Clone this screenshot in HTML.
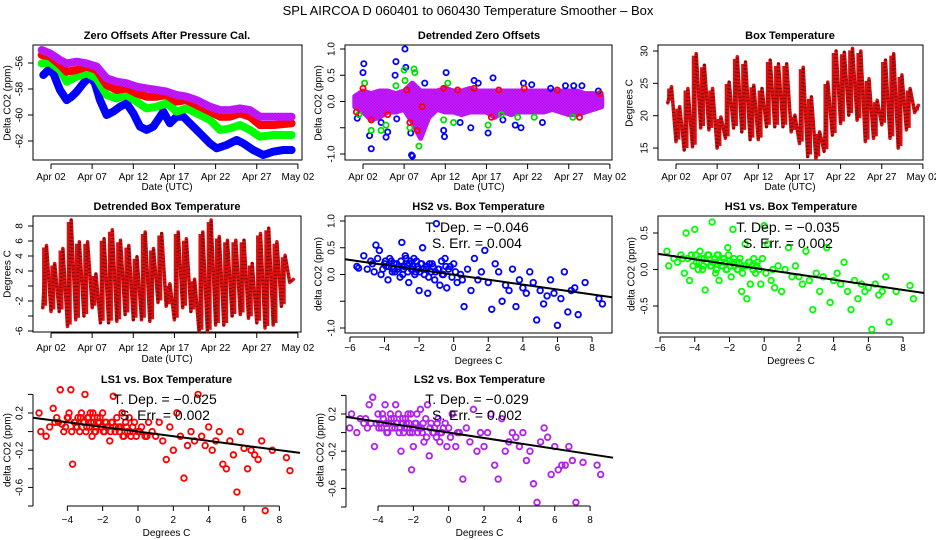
<!DOCTYPE html>
<html><head><meta charset="utf-8"><style>
html,body{margin:0;padding:0;background:#fff;}
svg{display:block;font-family:"Liberation Sans",sans-serif;}
</style></head><body>
<svg id="c" width="936" height="540" viewBox="0 0 936 540" xmlns="http://www.w3.org/2000/svg">
<defs>
<pattern id="chk" width="3" height="3" patternUnits="userSpaceOnUse"><rect width="3" height="3" fill="#ff00ff"/><rect width="1.5" height="1.5" fill="#7a2cf0"/><rect x="1.5" y="1.5" width="1.5" height="1.5" fill="#7a2cf0"/></pattern>
</defs>
<text x="468" y="15" font-size="13" text-anchor="middle">SPL   AIRCOA D   060401 to 060430   Temperature Smoother – Box</text>
</svg>
<script>
// ---------- data ----------
const days = [0,1,2,3,4,5,6,7,8,9,10,11,12,13,14,15,16,17,18,19,20,21,22,23,24,25,26,27,28,29,30];
const zoDay = [0.07,0.68,1.28,2.09,2.90,3.51,4.12,4.93,5.74,6.34,6.95,7.76,8.57,9.38,10.19,11.0,11.81,12.62,13.43,14.24,14.64,15.45,16.26,17.07,17.88,19.1,20.31,21.12,22.34,23.55,24.36,25.57,26.79,28.0,29.22,30.23];
const zoBlue = [-56.92,-56.54,-56.79,-58.08,-58.85,-58.59,-58.21,-57.56,-57.05,-57.56,-58.85,-60.0,-59.74,-59.36,-59.1,-59.87,-60.9,-61.15,-60.9,-60.13,-59.74,-60.64,-60.13,-60.13,-60.64,-61.41,-62.18,-62.56,-62.31,-61.92,-62.18,-62.69,-63.08,-62.82,-62.69,-62.69];
const zoDay2 = [-0.13,0.88,2.09,2.9,4.12,5.33,6.55,7.76,8.98,10.19,11.4,12.62,13.83,15.05,16.26,17.48,18.69,20.31,21.53,22.74,23.96,25.17,26.38,28.0,30.23];
const zoGreen = [-56.03,-55.95,-56.54,-57.44,-57.05,-56.79,-57.18,-58.46,-58.72,-58.46,-58.97,-59.49,-59.36,-59.1,-59.74,-59.49,-59.87,-60.38,-61.15,-61.03,-60.77,-61.15,-61.67,-61.54,-61.54];
const zoRed = [-55.38,-55.51,-56.15,-56.67,-56.54,-56.28,-56.54,-57.69,-58.08,-57.95,-58.33,-58.59,-58.59,-58.46,-58.97,-58.85,-59.23,-59.74,-60.13,-60.13,-59.87,-60.13,-60.77,-60.77,-60.64];
const zoPurple = [-55.0,-55.26,-55.77,-56.03,-55.9,-56.03,-56.28,-57.18,-57.44,-57.56,-57.82,-57.95,-58.08,-58.2,-58.46,-58.59,-58.85,-59.36,-59.62,-59.62,-59.49,-59.62,-60.13,-60.13,-60.13];

const dzHi = [0.1,0.2,0.15,0.2,0.2,0.15,0.2,0.35,0.2,0.2,0.2,0.25,0.2,0.2,0.25,0.2,0.2,0.2,0.2,0.2,0.2,0.2,0.2,0.2,0.2,0.2,0.2,0.2,0.15,0.15,0.1];
const dzLo = [-0.1,-0.2,-0.35,-0.3,-0.2,-0.2,-0.15,-0.4,-0.7,-0.3,-0.15,-0.2,-0.2,-0.25,-0.2,-0.2,-0.2,-0.3,-0.2,-0.25,-0.2,-0.2,-0.2,-0.2,-0.15,-0.2,-0.25,-0.25,-0.2,-0.15,-0.1];
const outBlueD = [0.3,1,1.1,1.8,2,3.2,3.8,4,4.9,5,5.1,6.1,6.2,6.8,6.9,7,8.5,10.8,10.9,11.1,12.8,14.1,14.5,15,16.2,16.8,18,19.5,20.2,20.5,21.5,22.8,23.8,25.6,26.6,27.6,29.6];
const outBlueV = [-0.32,0.55,0.72,-0.65,-0.9,-0.4,-0.68,-0.58,0.5,0.76,-0.33,1.0,0.65,-0.6,-1.02,-1.04,0.35,-0.55,-0.67,0.55,-0.4,-0.5,0.4,0.35,-0.6,0.45,-0.35,-0.45,-0.5,0.35,0.32,-0.4,0.25,0.3,0.3,0.3,0.2];
const outGreenD = [0.5,1.2,2,3.2,3.8,5,6,6.1,6.7,7.2,7.3,7.8,10.8,11.3,12,16.2,17.8,19.8,21.8,26.5];
const outGreenV = [-0.25,0.35,-0.55,-0.55,-0.45,0.3,0.6,0.4,-0.5,0.62,0.55,-0.85,-0.35,0.35,-0.4,-0.45,-0.25,-0.3,-0.3,-0.3];
const outRedD = [0.2,1,2,4,6.3,6.7,7.6,8.2,10.8,12.5,14.5,16.6,17.5,20.6,24.6,27.3,29.8];
const outRedV = [-0.2,0.25,-0.35,-0.25,0.22,-0.4,-0.55,-0.1,0.25,0.22,0.25,-0.3,0.22,0.25,0.22,-0.3,0.15];

const tMax = [24.5,21.4,24.2,29.6,27.8,24.2,19.8,25.2,29.1,28.3,24.7,24.2,28.6,28.0,28.0,20.1,27.5,22.9,17.5,25.2,30.0,29.8,30.4,30.0,25.7,22.4,28.6,29.6,26.3,24.2,21.6];
const tMin = [22.0,16.0,14.7,15.2,18.1,17.8,15.0,16.5,18.1,17.5,16.3,16.3,18.3,18.3,18.3,17.5,15.7,13.7,13.4,14.5,17.0,18.8,20.1,19.3,16.0,16.5,18.6,16.5,15.0,17.8,20.5];
const dMax = [5.4,3.0,5.0,8.8,5.9,5.9,1.6,6.3,7.5,6.1,5.4,3.9,7.2,5.0,7.0,0.3,7.2,6.3,0.9,7.2,8.8,6.6,6.1,6.1,6.1,3.0,7.0,7.7,5.9,4.1,0.9];
const dMin = [-2.9,-3.4,-3.4,-5.4,-4.5,-4.0,-2.9,-4.9,-4.9,-4.7,-3.8,-4.5,-4.5,-4.7,-2.2,-2.7,-4.5,-2.9,-3.4,-6.1,-6.1,-5.2,-5.2,-4.0,-3.8,-4.3,-4.9,-5.6,-5.2,-2.7,0.5];

const boxT = [-5.6,-5.5,-5.2,-5.0,-4.8,-4.6,-4.5,-4.4,-4.3,-4.2,-4.0,-3.9,-3.8,-3.7,-3.6,-3.5,-3.4,-3.3,-3.2,-3.1,-3.0,-2.9,-2.8,-2.7,-2.6,-2.5,-2.4,-2.3,-2.2,-2.1,-2.0,-1.9,-1.8,-1.7,-1.6,-1.5,-1.4,-1.3,-1.2,-1.1,-1.0,-0.9,-0.8,-0.7,-0.6,-0.5,-0.4,-0.3,-0.2,-0.1,0.0,0.2,0.4,0.6,0.8,1.0,1.2,1.4,1.6,1.8,2.0,2.2,2.4,2.6,2.8,3.0,3.2,3.4,3.6,3.8,4.0,4.2,4.4,4.6,4.8,5.0,5.2,5.4,5.6,5.8,6.0,6.2,6.4,6.6,6.8,7.0,7.2,7.6,8.4,8.6,
 -4.7,-4.1,-3.95,-3.75,-3.55,-3.45,-3.25,-3.05,-2.95,-2.85,-2.75,-2.65,-2.55,-2.45,-2.35,-2.25,-2.15,-2.05,-1.95,-1.85,-1.75,-1.55,-1.45,-1.25,-1.05,-0.85,-0.65,-0.45,0.1,0.5];
const hs2 = [0.15,0.12,0.35,0.1,0.25,0.05,0.55,0.3,0.45,0.0,0.2,0.15,-0.1,0.3,0.25,0.1,0.05,0.2,0.15,-0.05,0.6,0.1,0.35,0.2,-0.15,0.25,0.1,0.3,0.05,0.15,-0.3,0.2,0.5,0.0,0.1,-0.35,0.2,0.05,0.15,-0.1,0.95,0.1,-0.2,0.25,0.0,0.3,-0.25,0.1,0.15,-0.05,0.2,-0.15,0.0,-0.6,0.1,-0.3,0.3,-0.1,0.05,0.45,-0.15,-0.65,0.2,0.05,-0.5,-0.2,-0.3,0.1,-0.6,-0.1,-0.25,-0.35,0.05,-0.15,-0.85,-0.3,-0.55,-0.4,-0.1,-0.35,-0.95,-0.45,0.05,-0.7,-0.3,-0.25,-0.75,-0.15,-0.45,-0.55,
 0.2,0.1,0.25,0.15,0.05,0.2,0.1,0.25,0.0,0.15,0.3,0.05,0.2,0.1,0.15,0.0,0.25,0.1,0.05,0.2,0.1,0.15,-0.05,0.2,0.05,0.1,0.0,0.15,0.05,-0.1];
const hs1 = [0.25,0.05,0.15,0.1,0.2,-0.05,0.5,0.15,-0.15,0.2,0.55,0.1,0.0,0.25,0.15,0.05,-0.28,0.1,0.2,0.05,0.65,0.1,-0.05,0.2,-0.15,0.1,0.05,0.15,0.0,0.3,0.12,-0.1,0.55,0.05,0.1,0.0,0.15,-0.3,0.05,0.35,-0.4,0.1,-0.2,0.05,0.15,-0.05,0.1,0.0,-0.2,0.15,0.6,0.35,-0.15,-0.25,0.05,-0.3,0.0,0.3,-0.1,0.05,-0.1,-0.2,0.25,-0.15,-0.55,-0.05,-0.3,-0.1,0.3,-0.45,-0.15,-0.05,-0.2,0.1,-0.3,-0.55,-0.15,-0.4,-0.2,-0.3,-0.25,-0.82,-0.2,-0.35,-0.3,-0.1,-0.72,-0.3,-0.22,-0.4,
 0.15,0.05,0.2,0.1,0.0,0.15,0.2,0.05,0.1,0.15,0.0,0.2,0.1,0.05,0.15,0.1,0.0,0.2,0.05,0.1,0.15,0.0,0.1,-0.05,0.05,0.1,0.0,0.05,-0.05,0.0];
const ls1 = [0.2,0.0,-0.05,0.05,0.25,0.15,0.1,0.45,0.08,0.0,0.15,0.2,0.45,-0.35,0.1,0.05,0.15,0.0,0.2,0.1,0.4,0.05,0.15,0.2,-0.05,0.1,0.0,0.15,0.1,0.05,0.2,0.0,0.1,0.05,-0.1,0.1,0.38,0.0,0.15,0.05,0.05,0.2,-0.05,0.1,0.0,0.15,-0.05,0.05,0.1,-0.05,0.0,0.05,-0.05,0.1,0.0,-0.05,0.1,-0.1,-0.3,0.05,-0.2,0.2,-0.05,-0.5,-0.15,0.0,-0.1,0.4,-0.05,-0.15,0.05,-0.2,-0.1,0.0,-0.35,-0.4,-0.1,-0.25,-0.65,0.0,-0.18,-0.4,-0.2,-0.25,-0.3,-0.1,-0.85,-0.2,-0.28,-0.42,
 0.1,0.05,0.15,0.0,0.1,0.05,0.15,0.1,0.0,0.15,0.05,0.1,0.2,0.0,0.05,0.1,0.15,0.05,0.0,0.1,0.05,0.0,0.1,0.05,0.0,-0.05,0.05,0.0,0.0,-0.05];
const ls2 = [0.05,0.2,0.0,0.15,0.1,0.05,0.3,0.1,0.38,-0.15,0.2,0.1,0.05,0.15,0.3,0.0,0.1,0.2,0.05,0.15,0.3,0.1,0.0,-0.2,0.15,0.05,0.1,0.2,0.0,-0.4,-0.15,0.1,0.2,0.05,0.25,0.0,-0.1,0.15,0.3,-0.25,0.1,0.0,0.05,-0.05,0.15,-0.1,0.0,0.05,0.1,-0.15,0.05,0.2,-0.15,0.0,-0.5,0.05,-0.1,0.25,-0.2,0.0,-0.15,0.0,0.2,-0.35,-0.5,0.15,-0.2,-0.1,0.0,-0.05,-0.15,0.0,-0.3,-0.2,-0.55,-0.75,-0.1,0.05,-0.05,-0.45,-0.15,-0.4,-0.35,-0.35,-0.15,-0.3,-0.75,-0.32,-0.35,-0.45,
 0.15,0.1,0.05,0.2,0.1,0.0,0.15,0.05,0.1,0.2,0.05,0.1,0.0,0.15,0.05,0.1,0.2,0.0,0.05,0.1,0.0,0.05,0.1,-0.05,0.05,0.0,0.1,0.0,-0.05,0.0];
const slopes = [-0.046,-0.035,-0.025,-0.029];
const intercepts = [-0.005,0.0,0.0,0.0];
const dateLabels = ["Apr 02","Apr 07","Apr 12","Apr 17","Apr 22","Apr 27","May 02"];
const dateTicks = [1,6,11,16,21,26,31];

// ---------- helpers ----------
const svg = document.getElementById('c');
const NS = 'http://www.w3.org/2000/svg';
function mk(tag, attrs, parent){const e=document.createElementNS(NS,tag);for(const k in attrs)e.setAttribute(k,attrs[k]);(parent||svg).appendChild(e);return e;}
function txt(x,y,s,size,opts,parent){const t=mk('text',Object.assign({x:x,y:y,'font-size':size,'text-anchor':'middle'},opts||{}),parent);t.textContent=s;return t;}
function lin(k,v0,p0){return v=>p0+(v-v0)*k;}

function frame(g,x0,y0,x1,y1){
  mk('rect',{x:x0,y:y0,width:x1-x0,height:y1-y0,fill:'none',stroke:'#000','stroke-width':1},g);
}
function xAxis(g,X,vals,labels,yAx,labY){
  const ax=mk('g',{},g);
  
  
  mk('line',{x1:X(vals[0]),x2:X(vals[vals.length-1]),y1:yAx,y2:yAx,stroke:'#000'},ax);
  vals.forEach((v,i)=>{mk('line',{x1:X(v),x2:X(v),y1:yAx,y2:yAx+5,stroke:'#000'},ax);
    const t=txt(X(v),labY,labels[i],10,{},ax);
    
    });
}
function yAxis(g,Y,vals,labels,xAx,labX){
  const ax=mk('g',{},g);
  
  
  mk('line',{x1:xAx,x2:xAx,y1:Y(vals[0]),y2:Y(vals[vals.length-1]),stroke:'#000'},ax);
  vals.forEach((v,i)=>{mk('line',{x1:xAx-5,x2:xAx,y1:Y(v),y2:Y(v),stroke:'#000'},ax);
    if(labels[i]!==''){const t=txt(labX,Y(v),labels[i],10,{transform:`rotate(-90 ${labX} ${Y(v)})`,'dominant-baseline':'middle'},ax);
    
    }});
}
function titles(g,cx,ty,title,xty,xt,ytx,ycy,yt){
  const a=txt(cx,ty,title,11,{'font-weight':'bold'},g);
  
  
  const b=txt(cx,xty,xt,10,{},g);
  
  
  const c=txt(ytx,ycy,yt,10,{transform:`rotate(-90 ${ytx} ${ycy})`,'dominant-baseline':'middle'},g);
  
  
}
const ox=[0,312,625];
function dateX(c){return d=>51+ox[c]+(d-1)*8.23;}
function dateAxis(g,c,yAx,labY){xAxis(g,dateX(c),dateTicks,dateLabels,yAx,labY);}
function poly(g,pts,attrs){return mk('polyline',Object.assign({points:pts.map(p=>p[0].toFixed(1)+','+p[1].toFixed(1)).join(' '),fill:'none','stroke-linejoin':'round','stroke-linecap':'round'},attrs),g);}

// ---------- Panel 1: Zero offsets ----------
{const g=mk('g',{});
 
 
 const X=dateX(0), Y=lin(-13,-56,63);
 frame(g,33,45,302,160);
 const series=[[zoDay,zoBlue,'#0000ff','series-blue'],[zoDay2,zoGreen,'#00ff00','series-green'],[zoDay2,zoRed,'#ff0000','series-red'],[zoDay2,zoPurple,'url(#chk)','series-purple']];
 series.forEach(s=>{const p=poly(g,s[0].map((d,i)=>[X(d),Y(s[1][i])]),{stroke:s[2],'stroke-width':8});
   
   });
 dateAxis(g,0,164,180);
 yAxis(g,Y,[-56,-58,-60,-62],['-56','-58','-60','-62'],33,20);
 titles(g,167,39,'Zero Offsets After Pressure Cal.',190,'Date (UTC)',8,103,'Delta CO2 (ppm)');
}
// ---------- Panel 2: Detrended zero offsets ----------
{const g=mk('g',{});
 
 
 const X=dateX(1), Y=lin(-52.5,0,101.5);
 frame(g,345,45,612,160);
 const band=days.map((d,i)=>[X(d),Y(dzHi[i])]).concat(days.slice().reverse().map((d,j)=>{const i=days.length-1-j;return [X(d),Y(dzLo[i])];}));
 const bp=mk('polygon',{points:band.map(p=>p[0].toFixed(1)+','+p[1].toFixed(1)).join(' '),fill:'url(#chk)',stroke:'url(#chk)','stroke-width':5,'stroke-linejoin':'round'},g);
 
 
 [[outBlueD,outBlueV,'#0000ff'],[outGreenD,outGreenV,'#00dd00'],[outRedD,outRedV,'#ff0000']].forEach(s=>{
   s[0].forEach((d,i)=>{const c=mk('circle',{cx:X(d),cy:Y(s[1][i]),r:2.6,fill:'none',stroke:s[2],'stroke-width':1.8},g);
     
     });});
 dateAxis(g,1,164,180);
 yAxis(g,Y,[1,0.5,0,-0.5,-1],['1.0','0.5','0.0','','-1.0'],345,332);
 titles(g,479,39,'Detrended Zero Offsets',190,'Date (UTC)',319,103,'Delta CO2 (ppm)');
}
function tempPanel(g,c,Y,hi,lo){
 const X=dateX(c);const pts=[];
 days.forEach((d,i)=>{pts.push([X(d),Y(lo[i])]);pts.push([X(d+0.45),Y(hi[i])]);});
 const p=poly(g,pts,{stroke:'#e01010','stroke-width':3.5});
 
 
 days.forEach((d,i)=>{const l=mk('line',{x1:X(d+0.22),x2:X(d+0.22),y1:Y(lo[i])-2,y2:Y(hi[i])+2,stroke:'#d81010','stroke-width':5},g);
   
   });
 poly(g,pts,{stroke:'#300000','stroke-width':3,'stroke-dasharray':'1 2.5','stroke-linecap':'butt','opacity':0.55});
}
// ---------- Panel 3: Box temperature ----------
{const g=mk('g',{});
 
 
 const Y=lin(-6.47,30,51);
 frame(g,658,45,923,160);
 tempPanel(g,2,Y,tMax,tMin);
 dateAxis(g,2,164,180);
 yAxis(g,Y,[30,25,20,15],['30','25','20','15'],658,645);
 titles(g,790,39,'Box Temperature',190,'Date (UTC)',630,103,'Degrees C');
}
// ---------- Panel 4: Detrended box temperature ----------
{const g=mk('g',{});
 
 
 const Y=lin(-7.5,8,226);
 frame(g,33,216,301,332);
 tempPanel(g,0,Y,dMax,dMin);
 dateAxis(g,0,333,351);
 yAxis(g,Y,[8,6,4,2,0,-2,-4,-6],['8','6','4','2','','-2','','-6'],33,20);
 titles(g,167,210,'Detrended Box Temperature',362,'Date (UTC)',8,274,'Degrees C');
}
// ---------- scatter panels ----------
function scatter(name,k,ys,color,X,Y,box,xTicks,yTicks,yLabs,xAxY,labY,xtY,title,titleY,yAxX,yLabX,ytX,ycy,statX,statY,statA,statB){
 const g=mk('g',{});
 
 
 if(box)frame(g,box[0],box[1],box[2],box[3]);
 boxT.forEach((t,i)=>{const c=mk('circle',{cx:X(t),cy:Y(ys[i]),r:2.8,fill:'none',stroke:color,'stroke-width':1.8},g);
   
   });
 const xl=box?box[0]:yAxX, xr=box?box[2]:yAxX+267;
 const inv=x=>{const a=X(0),b=X(1)-X(0);return (x-a)/b;};
 const l=mk('line',{x1:xl,x2:xr,y1:Y(intercepts[k]+slopes[k]*inv(xl)),y2:Y(intercepts[k]+slopes[k]*inv(xr)),stroke:'#000','stroke-width':2},g);
 
 
 xAxis(g,X,xTicks,xTicks.map(String).map(s=>s.replace('-','−')),xAxY,labY);
 yAxis(g,Y,yTicks,yLabs,yAxX,yLabX);
 const cx=(xl+xr)/2;
 titles(g,cx,titleY,title,xtY,'Degrees C',ytX,ycy,'delta CO2 (ppm)');
 const a=txt(statX,statY,statA,14,{},g);
 
 
 const b=txt(statX,statY+16,statB,14,{},g);
 
 
}
scatter('panel-hs2-vs-temp',0,hs2,'#0000ff',lin(17.29,0,453.7),lin(-53.5,0,274.5),[345,216,612,333],[-6,-4,-2,0,2,4,6,8],[1,0.5,0,-0.5,-1],['1.0','0.5','0.0','','-1.0'],337,351,364,'HS2 vs. Box Temperature',210,345,332,319,274,477,232,'T. Dep. =  −0.046','S. Err. =  0.004');
scatter('panel-hs1-vs-temp',1,hs1,'#00ff00',lin(17.36,0,764.2),lin(-73,0,269.5),[658,216,924,333],[-6,-4,-2,0,2,4,6,8],[0.5,0,-0.5],['0.5','0.0','-0.5'],337,351,364,'HS1 vs. Box Temperature',210,658,645,632,274,788,232,'T. Dep. =  −0.035','S. Err. =  0.002');
scatter('panel-ls1-vs-temp',2,ls1,'#ff0000',lin(17.67,0,138),lin(-93,0,431.6),null,[-4,-2,0,2,4,6,8],[0.4,0.2,0,-0.2,-0.4,-0.6,-0.8],['','0.2','','-0.2','','-0.6',''],506,523,536,'LS1 vs. Box Temperature',383,33,20,8,450,165,404,'T. Dep. =  −0.025','S. Err. =  0.002');
scatter('panel-ls2-vs-temp',3,ls2,'#b020f0',lin(17.67,0,448.7),lin(-93,0,432.6),null,[-4,-2,0,2,4,6,8],[0.4,0.2,0,-0.2,-0.4,-0.6,-0.8],['','0.2','','-0.2','','-0.6',''],506,523,536,'LS2 vs. Box Temperature',383,346,333,321,450,477,404,'T. Dep. =  −0.029','S. Err. =  0.002');
</script>
</body></html>
